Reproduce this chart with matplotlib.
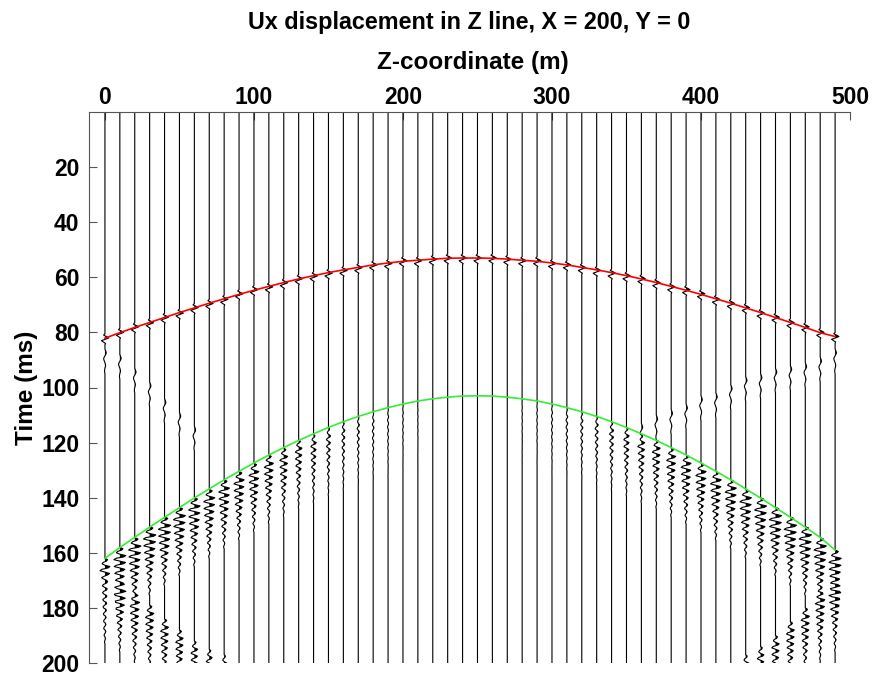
import numpy as np
import matplotlib.pyplot as plt

plt.rcParams['font.family'] = ['Liberation Sans', 'DejaVu Sans']
plt.rcParams['font.weight'] = 'bold'

nan = np.nan

# receiver positions along Z (m)
z_pos = np.arange(0, 500, 10)

# picked arrival times (ms) - red (direct) and green (later) curves
p_times = [82.1, 80.1, 78.2, 76.4, 74.6, 72.8, 71.1, 69.4, 67.8, 66.2,
           64.7, 63.3, 61.9, 60.6, 59.4, 58.3, 57.3, 56.4, 55.5, 54.8,
           54.2, 53.8, 53.4, 53.1, 53.0, 53.0, 53.1, 53.4, 53.8, 54.2,
           54.8, 55.5, 56.4, 57.3, 58.3, 59.4, 60.6, 61.9, 63.3, 64.7,
           66.2, 67.8, 69.4, 71.1, 72.8, 74.6, 76.4, 78.2, 80.1, 81.5]
s_times = [162.0, 158.1, 154.4, 150.7, 147.1, 143.6, 140.1, 136.8, 133.5, 130.4,
           127.4, 124.5, 121.8, 119.2, 116.8, 114.5, 112.4, 110.5, 108.8, 107.3,
           106.0, 104.9, 104.1, 103.5, 103.1, 103.0, 103.1, 103.5, 104.1, 104.9,
           106.0, 107.3, 108.8, 110.5, 112.4, 114.5, 116.8, 119.2, 121.8, 124.5,
           127.4, 130.4, 133.5, 136.8, 140.1, 143.6, 147.1, 150.7, 154.4, 159.0]

# amplitudes of the events on each trace (m of deflection)
p_amp = 1.8
s_amp = [2.4, 2.9, 3.0, 3.0, 3.0, 2.9, 2.8, 2.7, 2.6, 2.5,
         2.4, 2.2, 1.9, 1.6, 1.3, 1.0, 0.75, 0.55, 0.4, 0.25,
         0.15, 0.1, 0.05, 0.02, 0.0, 0.0, 0.02, 0.05, 0.1, 0.15,
         0.25, 0.4, 0.55, 0.75, 1.0, 1.3, 1.6, 1.9, 2.2, 2.4,
         2.5, 2.6, 2.7, 2.8, 2.9, 3.0, 3.0, 3.0, 3.0, 3.0]

# second (later) wave train near both ends
s2_times = [168, 171, 175, 179, 184, 188, 192, 195, 197] + [nan] * 34 + \
           [197, 194, 190, 185, 180, 174, 171]
s2_amp = [2.0, 2.2, 2.2, 2.0, 1.9, 1.8, 1.6, 1.4, 1.2] + [0.0] * 34 + \
         [1.4, 1.6, 1.8, 1.9, 2.0, 2.2, 2.2]

# weak event between the two curves
c_times = [86, 88, 93, 98, 104, 109, 114] + [nan] * 29 + \
          [113, 110, 108, 106, 103, 102, 99, 96, 95, 93, 92, 91, 89, 86]
c_amp = 0.6

# wavelets sampled every 0.5 ms
p_wavelet = [0, -0.35, 0.4, 1.0, 0.1, -0.9, -0.4, 0.15, 0]
s_wavelet = [0, 0.5, 0.3, -0.35, -0.55,
             0, 0.95, 0.6, -0.6, -0.95,
             0, 0.9, 0.55, -0.55, -0.9,
             0, 0.8, 0.5, -0.5, -0.8,
             0, 0.7, 0.42, -0.42, -0.7,
             0, 0.55, 0.33, -0.33, -0.55,
             0, 0.42, 0.25, -0.25, -0.42,
             0, 0.3, 0.18, -0.18, -0.3,
             0, 0.2, 0.12, -0.12, -0.2,
             0, 0.1, 0.06, -0.06, -0.1, 0]
c_wavelet = [0, 0.4, 0.8, 1.0, 0.6, 0, -0.6, -1.0, -0.8, -0.4,
             0, 0.3, 0.5, 0.3, 0, -0.2, -0.3, -0.2, 0]

dt = 0.5
t = np.arange(0, 200 + dt, dt)
gain = 1.45  # display gain for the wiggles


def add_event(trace, t0, amp, wav, shift=0):
    if np.isnan(t0) or amp == 0:
        return
    i0 = int(round(t0 / dt)) - shift
    for k, w in enumerate(wav):
        j = i0 + k
        if 0 <= j < len(trace):
            trace[j] += amp * w


fig = plt.figure(figsize=(8.73, 6.73), dpi=100)
ax = fig.add_axes([89 / 873, 1 - 663 / 673, 761 / 873, 551 / 673])

for i, z in enumerate(z_pos):
    tr = np.zeros_like(t)
    add_event(tr, p_times[i], p_amp, p_wavelet, shift=3)
    add_event(tr, s_times[i], s_amp[i], s_wavelet)
    add_event(tr, s2_times[i], s2_amp[i], s_wavelet)
    add_event(tr, c_times[i], c_amp, c_wavelet)
    x = z + gain * tr
    ax.plot(x, t, color='black', lw=0.8)
    ax.fill_betweenx(t, z, x, where=x > z, interpolate=True, color='black', lw=0)

ax.plot(z_pos, p_times, color='red', lw=1.2)
ax.plot(z_pos, s_times, color='#33ee33', lw=1.2)

ax.set_xlim(-10.7, 500)
ax.set_ylim(200, 0)
ax.set_xticks(np.arange(0, 501, 100))
ax.set_yticks(np.arange(20, 201, 20))
ax.xaxis.tick_top()
ax.spines['right'].set_visible(False)
ax.spines['bottom'].set_visible(False)
for s in ['top', 'left']:
    ax.spines[s].set_color('#555555')
    ax.spines[s].set_linewidth(0.8)
ax.tick_params(axis='both', direction='in', length=6, width=0.8, color='#555555',
               labelsize=16.5)
ax.tick_params(axis='x', pad=2)
ax.tick_params(axis='y', pad=7)

fig.text(0.538, 1 - 22 / 673, 'Ux displacement in Z line, X = 200, Y = 0',
         ha='center', va='center', fontsize=16.8, fontweight='bold')
fig.text(0.542, 1 - 62 / 673, 'Z-coordinate (m)',
         ha='center', va='center', fontsize=17.5, fontweight='bold')
fig.text(27 / 873, 1 - 388 / 673, 'Time (ms)', rotation=90,
         ha='center', va='center', fontsize=17.5, fontweight='bold')

fig.savefig('out.png', dpi=100)
